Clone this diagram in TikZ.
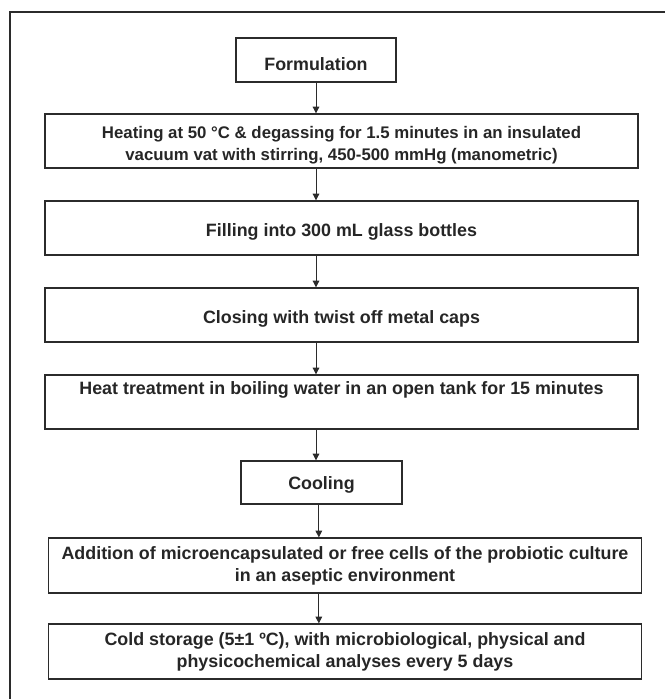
\documentclass[tikz,border=0pt]{standalone}
\usepackage{fontspec}
\setmainfont{Liberation Sans}
\usetikzlibrary{positioning,arrows.meta}
\definecolor{cLine}{HTML}{2b2b2b}
\definecolor{cText}{HTML}{262626}
\newcommand{\tpad}[1]{\rule{0pt}{#1}}
\tikzset{
  >={Triangle[length=5pt,width=5pt]},
  fbox/.style={draw=cLine,line width=1pt,align=center,inner sep=0pt,
               text=cText,font=\bfseries\fontsize{13.4}{16.5}\selectfont},
  sbox/.style={fbox,minimum width=120pt,minimum height=33pt},
  wbox/.style={fbox,minimum width=444.75pt,minimum height=40.5pt},
  farr/.style={->,line width=0.6pt,cLine},
  frame/.style={line width=1.5pt,cLine},
}
\begin{document}
\begin{tikzpicture}[x=0.75pt,y=-0.75pt]
  \useasboundingbox (0,0) rectangle (665,699);
  \draw[frame] (10,699) -- (10,12) -- (665,12);
  \node[sbox] (form) at (316,60) {\tpad{15.8pt}Formulation};
  \node[wbox,font=\bfseries\fontsize{12.6}{16.5}\selectfont] (heat) at (341.5,141)
    {\tpad{15.2pt}Heating at 50 °C \& degassing for 1.5 minutes in an insulated\\
    vacuum vat with stirring, 450-500 mmHg (manometric)};
  \node[wbox] (fill) at (341.5,228) {\tpad{15.8pt}Filling into 300 mL glass bottles};
  \node[wbox] (close) at (341.5,315) {\tpad{15.8pt}Closing with twist off metal caps};
  \node[wbox] (treat) at (341.5,402) {Heat treatment in boiling water in an open tank for 15 minutes\\ \strut};
  \node[sbox,minimum width=120.75pt,minimum height=32.25pt] (cool) at (321.5,482.5) {\tpad{12.8pt}Cooling};
  \node[wbox,minimum height=41.25pt] (add) at (345,565.5) {Addition of microencapsulated or free cells of the probiotic culture\\
    in an aseptic environment};
  \node[wbox,minimum height=41.25pt] (cold) at (345,651.5) {Cold storage (5±1 ºC), with microbiological, physical and\\
    physicochemical analyses every 5 days};
  \draw[farr] (form) -- (form |- heat.north);
  \draw[farr] (form |- heat.south) -- (form |- fill.north);
  \draw[farr] (form |- fill.south) -- (form |- close.north);
  \draw[farr] (form |- close.south) -- (form |- treat.north);
  \draw[farr] (form |- treat.south) -- (form |- cool.north);
  \draw[farr] ([xshift=-2pt]cool.south) -- ([xshift=-2pt]cool.south |- add.north);
  \draw[farr] ([xshift=-2pt]cool.south |- add.south) -- ([xshift=-2pt]cool.south |- cold.north);
\end{tikzpicture}
\end{document}
